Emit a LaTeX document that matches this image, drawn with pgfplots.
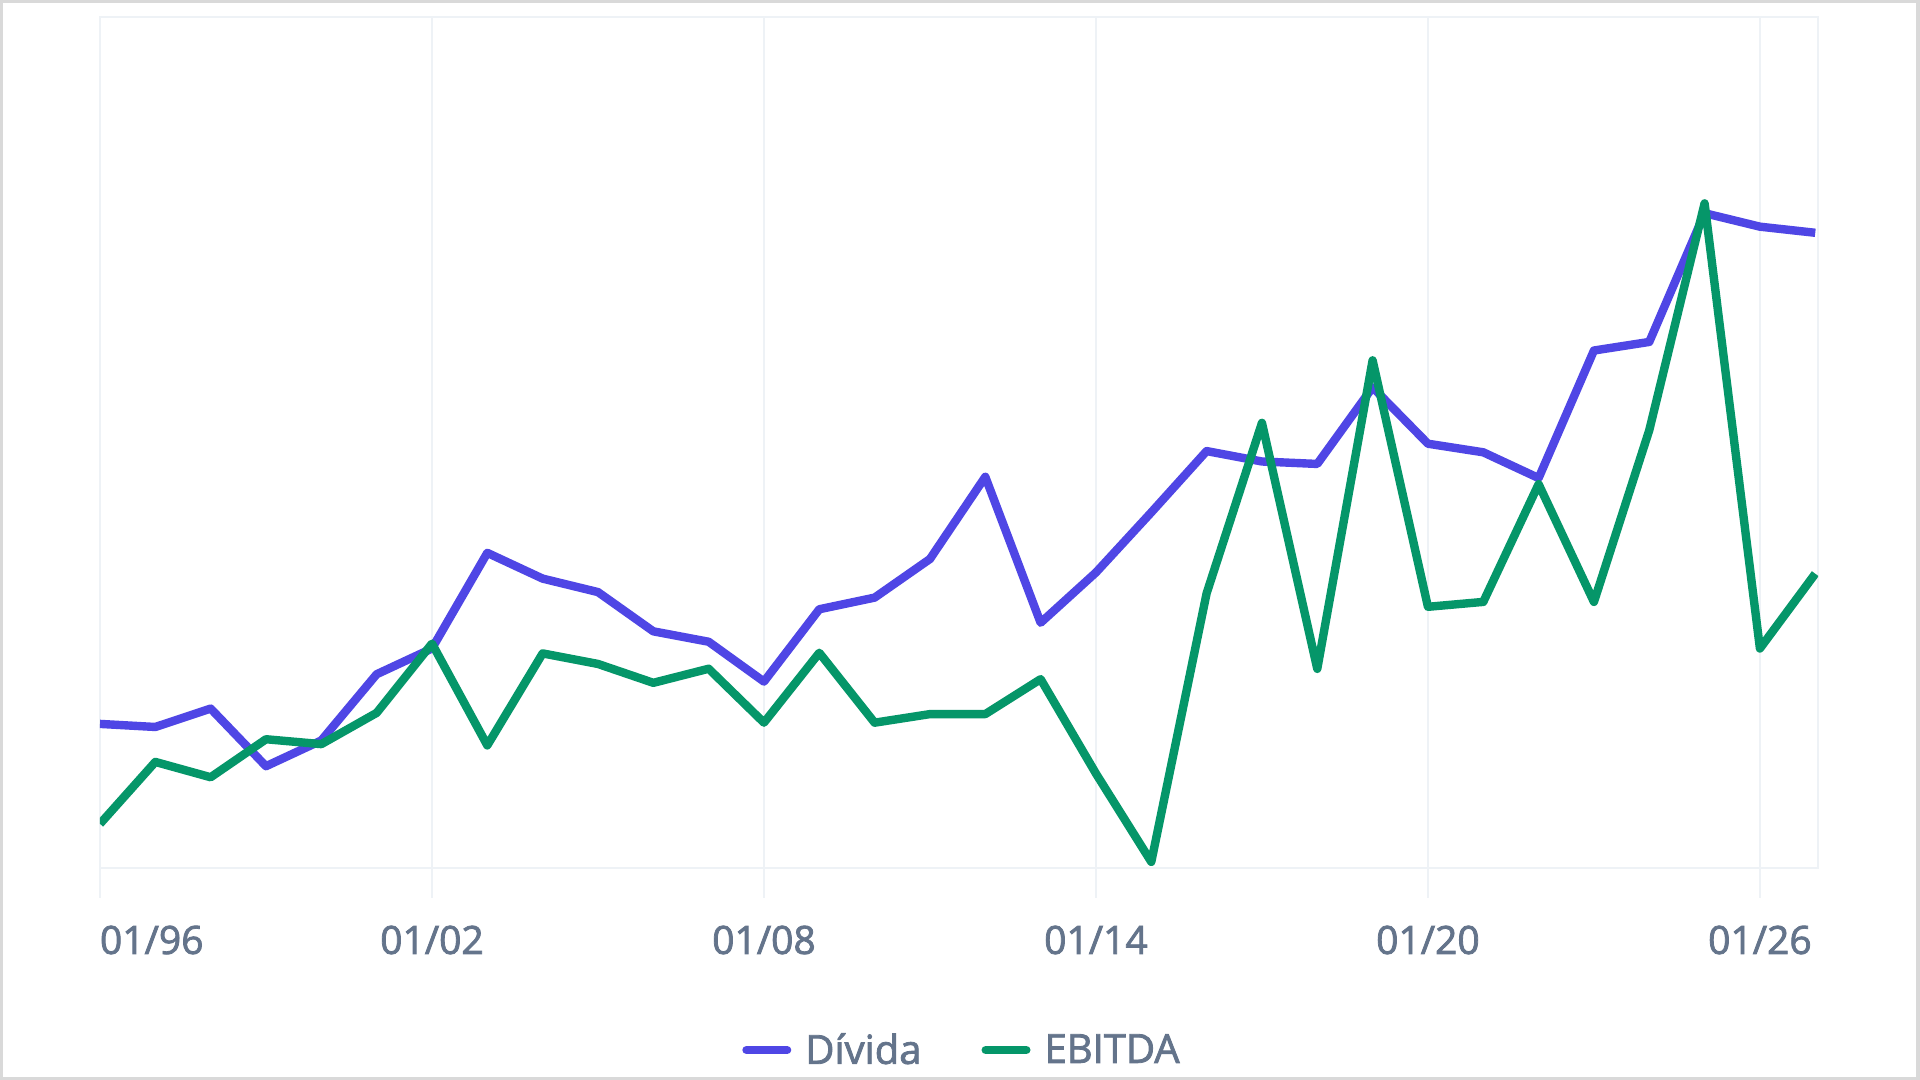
\documentclass[border=0pt]{standalone}
\usepackage{pgfplots}
\pgfplotsset{compat=1.18}
\usepackage{fontspec}
\setmainfont{Open Sans}
\newfontface\medfont[FakeBold=2]{Open Sans}
\definecolor{divida}{HTML}{4F46E5}
\definecolor{ebitda}{HTML}{059669}
\definecolor{txt}{HTML}{64748B}
\definecolor{gridc}{HTML}{EEF2F6}
\definecolor{framec}{HTML}{D9D9D9}

\pgfplotstableread{
year divida ebitda
1996 117.5 36
1997 115 86.5
1998 130 74
1999 83 105
2000 104 101
2001 158 126.5
2002 179 183
2003 257 100
2004 236 175
2005 225 166.4
2006 193 151
2007 184.5 162.5
2008 152 118.5
2009 211 175.5
2010 220.5 118.5
2011 252 125.5
2012 319 125.5
2013 200 154
2014 241 77
2015 290 5
2016 340 224
2017 331.5 363
2018 329.5 162.4
2019 392 414
2020 346 213
2021 339 217
2022 318 313
2023 422 217
2024 429 357
2025 534 542
2026 523 179
2027 518 240
}\datatable

\begin{document}
\begin{tikzpicture}
\useasboundingbox (0,0) rectangle (960pt,540pt);
\fill[framec] (0,0) rectangle (960pt,540pt);
\fill[white] (1.5pt,1.5pt) rectangle (958pt,538.5pt);
\begin{axis}[
  at={(50pt,106pt)}, anchor=south west,
  width=859pt, height=425.5pt, scale only axis,
  xmin=1996, xmax=2027.05, ymin=0, ymax=694,
  xtick={1996,2002,2008,2014,2020,2026},
  xticklabels={{\hphantom{01/96}01/96},01/02,01/08,01/14,01/20,01/26},
  ytick=\empty,
  xmajorgrids,
  grid style={gridc, line width=1pt},
  axis line style={gridc, line width=1pt},
  tick align=outside, major tick length=15pt,
  tick style={gridc, line width=1pt},
  xtick pos=bottom,
  xticklabel style={font=\medfont\fontsize{19.5}{22}\selectfont, text=txt, anchor=center, yshift=-21pt},
  legend columns=2,
  legend style={draw=none, fill=none, at={(0.5023,-0.2139)}, anchor=center,
    font=\medfont\fontsize{20}{24}\selectfont, text=txt,
    /tikz/every even column/.append style={column sep=28pt}},
  legend image code/.code={\draw[#1, line width=4.2pt, line cap=round] (2.1pt,0pt) -- (22.4pt,0pt);},
]
\addplot[divida, no markers, line width=4.2pt, line join=round] table[x=year, y=divida] {\datatable};
\addlegendentry{\hspace{5pt}Dívida}
\addplot[ebitda, no markers, line width=4.2pt, line join=round] table[x=year, y=ebitda] {\datatable};
\addlegendentry{\hspace{5pt}EBITDA}
\end{axis}
\end{tikzpicture}
\end{document}
